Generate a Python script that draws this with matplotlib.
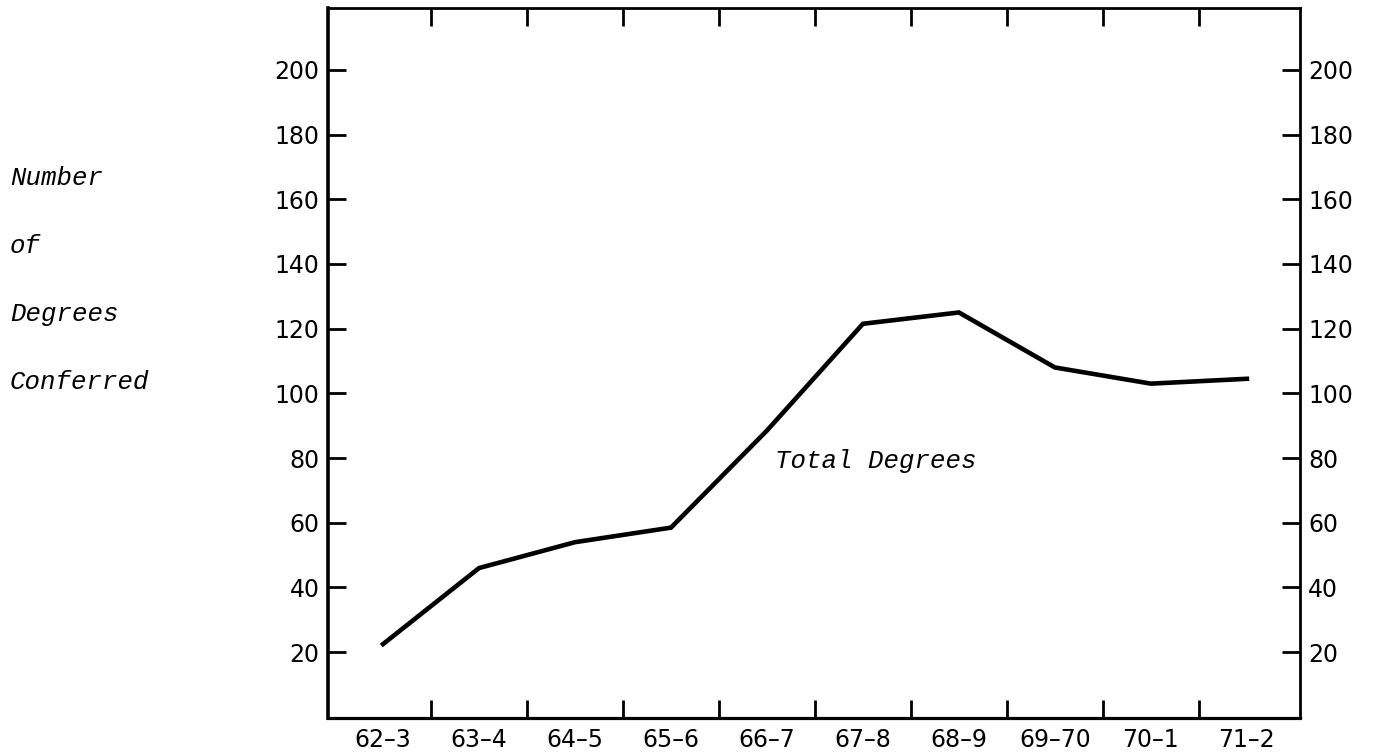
import numpy as np
import matplotlib
matplotlib.use("Agg")
import matplotlib.pyplot as plt
from matplotlib.ticker import FixedLocator, FixedFormatter

# academic years and degrees conferred
years = ["62–3", "63–4", "64–5", "65–6", "66–7", "67–8", "68–9", "69–70", "70–1", "71–2"]
total_degrees = [22.5, 46, 54, 58.5, 88.5, 121.5, 125, 108, 103, 104.5]
y_ticks = [20, 40, 60, 80, 100, 120, 140, 160, 180, 200]
ylabel_lines = ["Number", "of", "Degrees", "Conferred"]

TYPE_FONT = "Liberation Mono"
TICK_FONT = "DejaVu Sans"

fig = plt.figure(figsize=(13.9, 7.56), dpi=100)
ax = fig.add_axes([0.236, 0.050, 0.699, 0.939])

x = np.arange(len(years))
ax.plot(x, total_degrees, color="black", lw=3.3, solid_joinstyle="miter")

ax.set_xlim(-0.573, 9.55)
ax.set_ylim(-0.4, 219)

# year labels sit between the tick marks
bounds = x[:-1] + 0.5
ax.xaxis.set_major_locator(FixedLocator(bounds))
ax.xaxis.set_major_formatter(FixedFormatter([""] * len(bounds)))
ax.xaxis.set_minor_locator(FixedLocator(x))
ax.xaxis.set_minor_formatter(FixedFormatter(years))
ax.tick_params(axis="x", which="major", direction="in", length=13, width=2,
               top=True, bottom=True)
ax.tick_params(axis="x", which="minor", length=0, pad=7, labelsize=17)

ax.set_yticks(y_ticks)
ax.tick_params(axis="y", direction="in", length=13, width=2, left=True, right=True,
               labelleft=True, labelright=True, labelsize=17, pad=6)

for lab in ax.get_xticklabels(minor=True) + ax.get_yticklabels():
    lab.set_fontfamily(TICK_FONT)

for side, w in [("left", 2.6), ("bottom", 2.3), ("right", 2.0), ("top", 2.0)]:
    ax.spines[side].set_linewidth(w)

ax.text(4.08, 79, "Total Degrees", fontfamily=TYPE_FONT, style="italic",
        fontsize=18.5, ha="left", va="center")

for i, line in enumerate(ylabel_lines):
    fig.text(10 / 1390, 1 - (178 + 68 * i) / 756, line, fontfamily=TYPE_FONT,
             style="italic", fontsize=18.5, ha="left", va="center")

fig.savefig("out.png", dpi=100)
